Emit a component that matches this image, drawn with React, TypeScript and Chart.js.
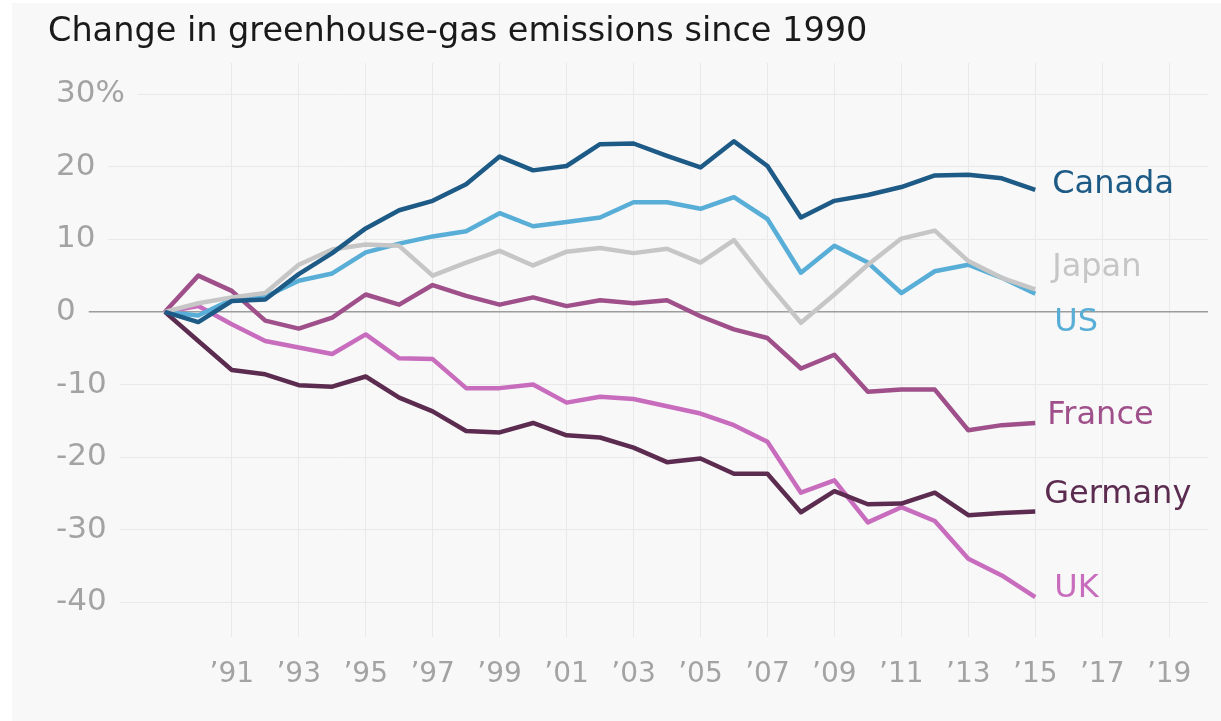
import React, { useEffect, useRef } from "react";
import { Chart, registerables } from "chart.js";

Chart.register(...registerables);

// Yearly change in greenhouse-gas emissions, % relative to 1990
const years = [
  1990, 1991, 1992, 1993, 1994, 1995, 1996, 1997, 1998, 1999, 2000, 2001, 2002, 2003,
  2004, 2005, 2006, 2007, 2008, 2009, 2010, 2011, 2012, 2013, 2014, 2015, 2016,
];

const canada = [
  0, -1.4, 1.5, 1.7, 5.2, 8.1, 11.5, 14.0, 15.3, 17.6, 21.4, 19.5, 20.1, 23.1,
  23.2, 21.5, 19.9, 23.5, 20.1, 13.0, 15.3, 16.1, 17.2, 18.8, 18.9, 18.4, 16.8,
];
const japan = [
  0, 1.2, 2.0, 2.6, 6.5, 8.6, 9.3, 9.1, 5.0, 6.8, 8.4, 6.4, 8.3, 8.8,
  8.1, 8.7, 6.8, 9.9, 4.0, -1.5, 2.4, 6.5, 10.1, 11.2, 7.0, 4.7, 3.1,
];
const us = [
  0, -0.5, 1.7, 2.1, 4.3, 5.3, 8.2, 9.4, 10.4, 11.1, 13.6, 11.8, 12.4, 13.0,
  15.1, 15.1, 14.2, 15.8, 12.8, 5.4, 9.1, 6.8, 2.6, 5.6, 6.5, 4.7, 2.5,
];
const france = [
  0, 5.0, 2.9, -1.2, -2.3, -0.8, 2.4, 1.0, 3.7, 2.2, 1.0, 2.0, 0.8, 1.6,
  1.2, 1.6, -0.6, -2.4, -3.6, -7.8, -5.9, -11.0, -10.7, -10.7, -16.3, -15.6, -15.3,
];
const germany = [
  0, -4.0, -8.0, -8.6, -10.1, -10.3, -8.9, -11.8, -13.7, -16.4, -16.6, -15.3, -17.0, -17.3,
  -18.7, -20.7, -20.2, -22.3, -22.3, -27.6, -24.7, -26.5, -26.4, -24.9, -28.0, -27.7, -27.5,
];
const uk = [
  0, 0.8, -1.7, -4.0, -4.9, -5.8, -3.1, -6.4, -6.5, -10.5, -10.5, -10.0, -12.5, -11.7,
  -12.0, -13.0, -14.0, -15.6, -17.9, -24.9, -23.2, -29.0, -26.9, -28.8, -34.0, -36.3, -39.3,
];

const countries = ["Canada", "Japan", "US", "France", "Germany", "UK"];
const seriesValues = [canada, japan, us, france, germany, uk];
const seriesColors = ["#1d5a86", "#c6c6c6", "#58aed6", "#9f4f89", "#5c2c50", "#c86dbd"];
// nudges for the end-of-line names so neighbours do not collide
const labelShiftY = [-5, -22, 29, -7, -17, -8];
const labelShiftX = [0, 0, 2, -5, -8, 2];

// x-axis ticks: position on the year scale and the text shown there
const tickYears = [1992, 1994, 1996, 1998, 2000, 2002, 2004, 2006, 2008, 2010, 2012, 2014, 2016, 2018, 2020];
const tickLabels = ["’91", "’93", "’95", "’97", "’99", "’01", "’03", "’05", "’07", "’09", "’11", "’13", "’15", "’17", "’19"];
const yTicks = [-40, -30, -20, -10, 0, 10, 20, 30];

const TITLE = "Change in greenhouse-gas emissions since 1990";
const FONT = "'DejaVu Sans', 'Liberation Sans', sans-serif";
const BG = "#f8f8f8";

const titleAndLabels = {
  id: "titleAndLabels",
  afterDatasetsDraw(chart: any) {
    const ctx = chart.ctx;
    ctx.save();
    ctx.font = `32px ${FONT}`;
    ctx.textAlign = "left";
    ctx.textBaseline = "middle";
    chart.data.datasets.forEach((ds: any, i: number) => {
      const meta = chart.getDatasetMeta(i);
      const pt = meta.data[meta.data.length - 1];
      if (!pt) return;
      ctx.fillStyle = ds.borderColor;
      ctx.fillText(ds.label, pt.x + 17 + labelShiftX[i], pt.y + labelShiftY[i]);
    });
    ctx.font = `33.5px ${FONT}`;
    ctx.textBaseline = "alphabetic";
    ctx.fillStyle = "#1a1a1a";
    ctx.fillText(TITLE, 48, 41);
    ctx.restore();
  },
};

export default function App() {
  const canvasRef = useRef<HTMLCanvasElement | null>(null);

  useEffect(() => {
    document.body.style.margin = "0";
    const canvas = canvasRef.current;
    if (!canvas) return;
    const chart = new Chart(canvas, {
      type: "line",
      data: {
        datasets: countries.map((name, i) => ({
          label: name,
          data: years.map((y, j) => ({ x: y, y: seriesValues[i][j] })),
          borderColor: seriesColors[i],
          backgroundColor: seriesColors[i],
          borderWidth: 4.5,
          borderJoinStyle: "round" as const,
          pointRadius: 0,
          pointHoverRadius: 0,
          fill: false,
          tension: 0,
        })),
      },
      options: {
        responsive: false,
        animation: false,
        events: [],
        layout: { padding: { left: 41, right: 13, top: 63, bottom: 8 } },
        plugins: {
          legend: { display: false },
          tooltip: { enabled: false },
          title: { display: false },
        },
        scales: {
          x: {
            type: "linear",
            min: 1986.6,
            max: 2021.16,
            afterBuildTicks: (scale: any) => {
              scale.ticks = tickYears.map((v) => ({ value: v }));
            },
            ticks: {
              color: "#a3a3a3",
              font: { family: FONT, size: 28 },
              padding: 21,
              maxRotation: 0,
              autoSkip: false,
              callback: (v: any) => {
                const idx = tickYears.indexOf(Number(v));
                return idx >= 0 ? tickLabels[idx] : "";
              },
            },
            grid: { color: "#e9e9e9", lineWidth: 1, drawTicks: false },
            border: { display: false },
          },
          y: {
            type: "linear",
            min: -44.84,
            max: 34.29,
            afterBuildTicks: (scale: any) => {
              scale.ticks = yTicks.map((v) => ({ value: v }));
            },
            ticks: {
              mirror: true,
              padding: 5,
              color: "#a3a3a3",
              font: { family: FONT, size: 31 },
              showLabelBackdrop: true,
              backdropColor: BG,
              backdropPadding: { left: 6, right: 13, top: 2, bottom: 2 },
              callback: (v: any) => (Number(v) === 30 ? "30%" : String(v)),
            },
            grid: {
              drawTicks: false,
              color: (c: any) => (c.tick && c.tick.value === 0 ? "#9c9c9c" : "#e9e9e9"),
              lineWidth: (c: any) => (c.tick && c.tick.value === 0 ? 1.5 : 1),
            },
            border: { display: false },
          },
        },
      } as any,
      plugins: [titleAndLabels],
    });
    return () => chart.destroy();
  }, []);

  return (
    <div style={{ position: "fixed", left: 0, top: 0, width: 1221, height: 721, background: "#ffffff" }}>
      <div style={{ position: "absolute", left: 12, top: 3, right: 0, bottom: 0, background: BG }} />
      <canvas
        ref={canvasRef}
        width={1221}
        height={721}
        style={{ position: "absolute", left: 0, top: 0, width: 1221, height: 721 }}
      />
    </div>
  );
}
